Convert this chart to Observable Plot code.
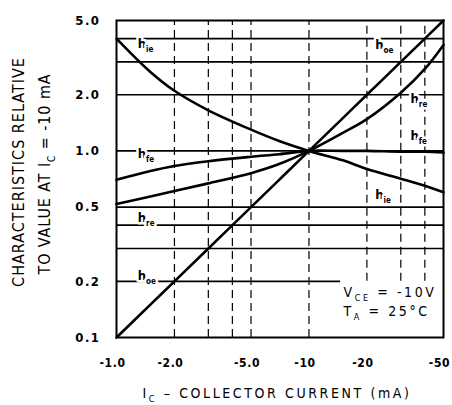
<!DOCTYPE html>
<html>
<head>
<meta charset="utf-8">
<script src="https://cdn.jsdelivr.net/npm/d3@7"></script>
<script src="https://cdn.jsdelivr.net/npm/@observablehq/plot@0.6"></script>
<style>
  html, body { margin: 0; padding: 0; background: #fff; }
  #chart svg { display: block; }
</style>
</head>
<body>
<div id="chart"></div>
<script>
// Collector current magnitude (mA); axis shows negative values
const ic    = [1, 1.5, 2, 3, 5, 7, 10, 15, 20, 30, 40, 50];
const h_ie  = [4.0, 2.65, 2.1, 1.65, 1.3, 1.13, 1.0, 0.89, 0.80, 0.71, 0.65, 0.60];
const h_fe  = [0.70, 0.78, 0.83, 0.88, 0.93, 0.96, 1.0, 1.0, 1.0, 0.99, 0.99, 0.98];
const h_re  = [0.52, 0.57, 0.61, 0.67, 0.76, 0.85, 1.0, 1.25, 1.48, 2.05, 2.75, 3.7];
const h_oe  = [0.1, 0.15, 0.2, 0.3, 0.5, 0.7, 1.0, 1.5, 2.0, 3.0, 4.0, 5.0];

const xTicks = [1, 2, 5, 10, 20, 50];
const xTickLabels = ["-1.0", "-2.0", "-5.0", "-10", "-20", "-50"];
const yTicks = [0.1, 0.2, 0.5, 1, 2, 5];
const yTickLabels = ["0.1", "0.2", "0.5", "1.0", "2.0", "5.0"];

const xGrid = [2, 3, 4, 5, 10, 20, 30, 40];
const yGrid = [0.2, 0.3, 0.4, 0.5, 1, 2, 3, 4];

// curve labels (position in data units)
const labelNames = ["h_{ie}", "h_{fe}", "h_{re}", "h_{oe}", "h_{oe}", "h_{re}", "h_{fe}", "h_{ie}"];
const labelIc    = [1.29, 1.29, 1.29, 1.29, 22.1, 33.7, 33.7, 22.1];
const labelValue = [3.75, 0.96, 0.44, 0.215, 3.72, 1.9, 1.2, 0.58];

// conditions note (lower right corner region)
const noteLines = ["V_{CE} = -10V", "T_{A} = 25°C"];
const noteIc    = [15.1, 15.1];
const noteValue = [0.174, 0.1375];
const noteCornerIc = 14.6;
const noteCornerValue = 0.2;

const xTitle = "I_{C} – COLLECTOR CURRENT (mA)";
const yTitle1 = "CHARACTERISTICS RELATIVE";
const yTitle2 = "TO VALUE AT I_{C} = -10 mA";

const series = [
  {name: "h_ie", values: h_ie},
  {name: "h_fe", values: h_fe},
  {name: "h_re", values: h_re},
  {name: "h_oe", values: h_oe}
];
const rows = series.flatMap(s => s.values.map((v, i) => ({series: s.name, ic: ic[i], v})));
const labels = labelNames.map((t, i) => ({t, ic: labelIc[i], v: labelValue[i]}));
const notes = noteLines.map((t, i) => ({t, ic: noteIc[i], v: noteValue[i]}));
const xTickRows = xTicks.map((d, i) => ({d, t: xTickLabels[i]}));
const yTickRows = yTicks.map((d, i) => ({d, t: yTickLabels[i]}));

const font = "'DejaVu Sans Condensed', 'DejaVu Sans', sans-serif";

const chart = Plot.plot({
  width: 452,
  height: 405,
  marginLeft: 116,
  marginRight: 9,
  marginTop: 20,
  marginBottom: 68,
  style: {fontFamily: font, background: "white", color: "black"},
  x: {type: "log", domain: [1, 50], axis: null},
  y: {type: "log", domain: [0.1, 5], axis: null},
  marks: [
    // grid
    Plot.ruleY(yGrid, {
      y: d => d,
      x1: 1,
      x2: d => d === noteCornerValue ? noteCornerIc : 50,
      stroke: "black", strokeWidth: 1.6
    }),
    Plot.ruleX(xGrid, {
      x: d => d,
      y1: d => d > noteCornerIc ? noteCornerValue : 0.1,
      y2: 5,
      stroke: "black", strokeWidth: 1.2, strokeDasharray: "8,5"
    }),
    // curve labels with white halo (break the grid lines)
    Plot.text(labels, {
      x: "ic", y: "v", text: "t", textAnchor: "start",
      fontSize: 13, fontWeight: "bold", fill: "black",
      stroke: "white", strokeWidth: 5
    }),
    // curves
    Plot.line(rows, {
      x: "ic", y: "v", z: "series", curve: "catmull-rom",
      stroke: "black", strokeWidth: 2.6
    }),
    Plot.frame({stroke: "black", strokeWidth: 2}),
    // conditions note
    Plot.text(notes, {
      x: "ic", y: "v", text: "t", textAnchor: "start",
      fontSize: 14, fill: "black"
    }),
    // tick labels
    Plot.text(xTickRows, {
      x: "d", text: "t", frameAnchor: "bottom", lineAnchor: "middle", textAnchor: "middle",
      dy: 26, dx: -4, fontSize: 12, fontWeight: "bold", fill: "black"
    }),
    Plot.text(yTickRows, {
      y: "d", text: "t", frameAnchor: "left", lineAnchor: "middle", textAnchor: "end",
      dx: -16, fontSize: 13, fontWeight: "bold", fill: "black"
    }),
    // axis titles
    Plot.text([xTitle], {
      frameAnchor: "bottom", lineAnchor: "middle", textAnchor: "middle",
      dy: 56, dx: -3, text: d => d,
      fontSize: 14, fill: "black"
    }),
    Plot.text([yTitle1], {
      frameAnchor: "left", lineAnchor: "middle", textAnchor: "middle",
      dx: -98, dy: -7, rotate: -90, text: d => d,
      fontSize: 16, fill: "black"
    }),
    Plot.text([yTitle2], {
      frameAnchor: "left", lineAnchor: "middle", textAnchor: "middle",
      dx: -72, dy: -5, rotate: -90, text: d => d,
      fontSize: 16, fill: "black"
    })
  ]
});

document.getElementById("chart").appendChild(chart);

// letter spacing per text (Plot has no letterSpacing option)
const spacing = new Map([
  [xTitle, 2.6], [yTitle1, 1.0], [yTitle2, 0.9],
  [noteLines[0], 2.6], [noteLines[1], 2.6]
]);
xTickLabels.forEach(t => spacing.set(t, 0.6));
yTickLabels.forEach(t => spacing.set(t, 1.5));

// turn "_{...}" into subscript tspans
function subscriptify(el) {
  const s = el.textContent;
  if (!s.includes("_{")) return;
  const fs = parseFloat(getComputedStyle(el).fontSize) || 12;
  const shift = Math.round(fs * 0.3);
  const parts = s.split(/_\{([^}]*)\}/);
  while (el.firstChild) el.removeChild(el.firstChild);
  const ns = "http://www.w3.org/2000/svg";
  let shifted = false;
  parts.forEach((p, i) => {
    if (p === "") { return; }
    const ts = document.createElementNS(ns, "tspan");
    ts.textContent = p;
    if (i % 2 === 1) {
      ts.setAttribute("font-size", Math.round(fs * 0.62));
      ts.setAttribute("dy", shift);
      shifted = true;
    } else if (shifted) {
      ts.setAttribute("dy", -shift);
      shifted = false;
    }
    el.appendChild(ts);
  });
}
chart.querySelectorAll("text").forEach(t => {
  const key = t.textContent;
  if (spacing.has(key)) t.style.letterSpacing = spacing.get(key) + "px";
  const spans = t.querySelectorAll("tspan");
  if (spans.length) spans.forEach(subscriptify); else subscriptify(t);
});
</script>
</body>
</html>
